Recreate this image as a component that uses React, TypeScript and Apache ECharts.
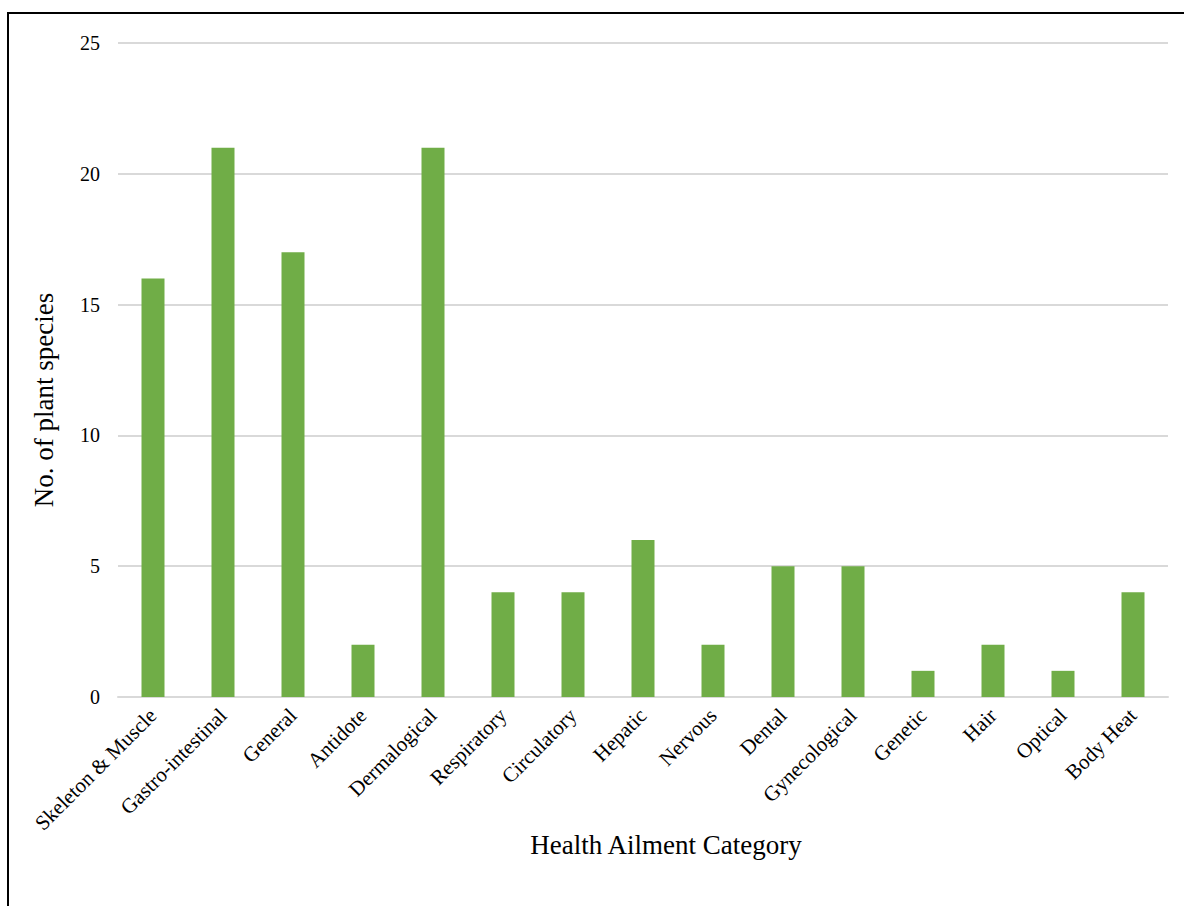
import React, { useEffect, useRef } from "react";
import * as echarts from "echarts";

const categories = [
  "Skeleton & Muscle",
  "Gastro-intestinal",
  "General",
  "Antidote",
  "Dermalogical",
  "Respiratory",
  "Circulatory",
  "Hepatic",
  "Nervous",
  "Dental",
  "Gynecological",
  "Genetic",
  "Hair",
  "Optical",
  "Body Heat",
];

const speciesCounts = [16, 21, 17, 2, 21, 4, 4, 6, 2, 5, 5, 1, 2, 1, 4];

const yAxisTitle = "No. of plant species";
const xAxisTitle = "Health Ailment Category";

const FONT = "'Liberation Serif', 'Times New Roman', serif";

export default function App() {
  const ref = useRef<HTMLDivElement>(null);

  useEffect(() => {
    if (!ref.current) return;
    const chart = echarts.init(ref.current, null, { renderer: "svg" });
    chart.setOption({
      animation: false,
      backgroundColor: "#ffffff",
      textStyle: { fontFamily: FONT },
      grid: { left: 118, right: 16, top: 43, bottom: 209, containLabel: false },
      xAxis: {
        type: "category",
        data: categories,
        axisLine: { lineStyle: { color: "#d9d9d9", width: 2 } },
        axisTick: { show: false },
        axisLabel: {
          rotate: 45,
          interval: 0,
          margin: 15,
          color: "#000",
          fontSize: 21,
          fontFamily: FONT,
        },
      },
      yAxis: {
        type: "value",
        min: 0,
        max: 25,
        interval: 5,
        axisLine: { show: false },
        axisTick: { show: false },
        splitLine: { lineStyle: { color: "#d9d9d9", width: 2 } },
        axisLabel: { color: "#000", fontSize: 20, margin: 18, fontFamily: FONT },
      },
      series: [
        {
          type: "bar",
          data: speciesCounts,
          barWidth: 23,
          itemStyle: { color: "#70ad47" },
        },
      ],
      graphic: [
        {
          type: "rect",
          shape: { x: 8, y: 13, width: 1300, height: 1000 },
          style: { fill: "none", stroke: "#000", lineWidth: 2 },
          silent: true,
        },
        {
          type: "text",
          x: 44,
          y: 400,
          rotation: Math.PI / 2,
          style: {
            text: yAxisTitle,
            fontSize: 27,
            fontFamily: FONT,
            fill: "#000",
            align: "center",
            verticalAlign: "middle",
          },
        },
        {
          type: "text",
          x: 666,
          y: 845,
          style: {
            text: xAxisTitle,
            fontSize: 27,
            fontFamily: FONT,
            fill: "#000",
            align: "center",
            verticalAlign: "middle",
          },
        },
      ],
    });
    return () => chart.dispose();
  }, []);

  return (
    <div
      ref={ref}
      style={{ position: "fixed", left: 0, top: 0, width: 1184, height: 906 }}
    />
  );
}
